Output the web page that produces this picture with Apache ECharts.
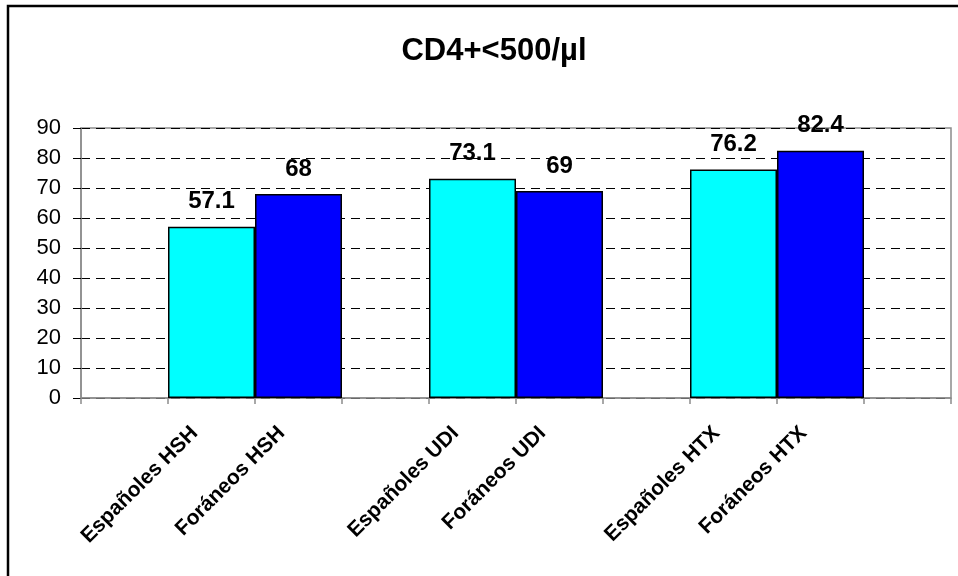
<!DOCTYPE html>
<html>
<head>
<meta charset="utf-8">
<style>
  html, body { margin: 0; padding: 0; background: #fff; }
  #chart { width: 958px; height: 576px; }
</style>
<script src="https://cdn.jsdelivr.net/npm/echarts@6/dist/echarts.min.js"></script>
</head>
<body>
<div id="chart"></div>
<script>
// Percentage of patients with CD4+ below 500/µl, by origin and transmission group
const groups = ['HSH', 'UDI', 'HTX'];
const espanoles = [57.1, 73.1, 76.2];
const foraneos = [68, 69, 82.4];
const yTicks = { min: 0, max: 90, step: 10 };

const FONT = 'Arial, "Liberation Sans", sans-serif';

// Each group takes three slots: Españoles, Foráneos, then an empty gap;
// one leading gap sits before the first group.
const categories = [''];
const espSeries = [null];
const forSeries = [null];
groups.forEach((g, i) => {
  categories.push('Españoles ' + g, 'Foráneos ' + g, '');
  espSeries.push(espanoles[i], null, null);
  forSeries.push(null, foraneos[i], null);
});

const barLabel = {
  show: true,
  position: 'top',
  distance: 13,
  color: '#000',
  fontFamily: FONT,
  fontWeight: 'bold',
  fontSize: 24
};

const chart = echarts.init(document.getElementById('chart'), null, { renderer: 'canvas' });
chart.setOption({
  animation: false,
  backgroundColor: '#fff',
  title: {
    text: 'CD4+<500/µl',
    left: 489,
    top: 31,
    textAlign: 'center',
    textStyle: { fontFamily: FONT, fontWeight: 'bold', fontSize: 31, color: '#000' }
  },
  graphic: [{
    type: 'rect',
    shape: { x: 8, y: 6, width: 1200, height: 1200 },
    style: { fill: 'none', stroke: '#000', lineWidth: 2.5 },
    silent: true
  }],
  grid: {
    left: 81, right: 7, top: 128, bottom: 178,
    show: true, borderColor: '#8c8c8c', borderWidth: 1.5, backgroundColor: 'transparent'
  },
  xAxis: {
    type: 'category',
    data: categories,
    boundaryGap: true,
    axisLine: { lineStyle: { color: '#8c8c8c', width: 1.5 } },
    axisTick: { show: true, length: 6, lineStyle: { color: '#8c8c8c', width: 1.5 } },
    axisLabel: {
      interval: 0,
      rotate: 45,
      margin: 15,
      padding: [0, 24, 0, 0],
      color: '#000',
      fontFamily: FONT,
      fontWeight: 'bold',
      fontSize: 21
    }
  },
  yAxis: {
    type: 'value',
    min: yTicks.min,
    max: yTicks.max,
    interval: yTicks.step,
    axisLine: { show: true, lineStyle: { color: '#8c8c8c', width: 1.5 } },
    axisTick: { show: true, length: 8, lineStyle: { color: '#000', width: 1 } },
    axisLabel: { margin: 20, color: '#000', fontFamily: FONT, fontSize: 22 },
    splitLine: { show: true, lineStyle: { color: '#000', width: 1, type: [9, 6] } }
  },
  series: [
    {
      name: 'Españoles',
      type: 'bar',
      data: espSeries,
      barWidth: '100%',
      barGap: '-100%',
      itemStyle: { color: '#00ffff', borderColor: '#000', borderWidth: 1.5 },
      label: barLabel
    },
    {
      name: 'Foráneos',
      type: 'bar',
      data: forSeries,
      barWidth: '100%',
      barGap: '-100%',
      itemStyle: { color: '#0000ff', borderColor: '#000', borderWidth: 1.5 },
      label: barLabel
    }
  ]
});
</script>
</body>
</html>
